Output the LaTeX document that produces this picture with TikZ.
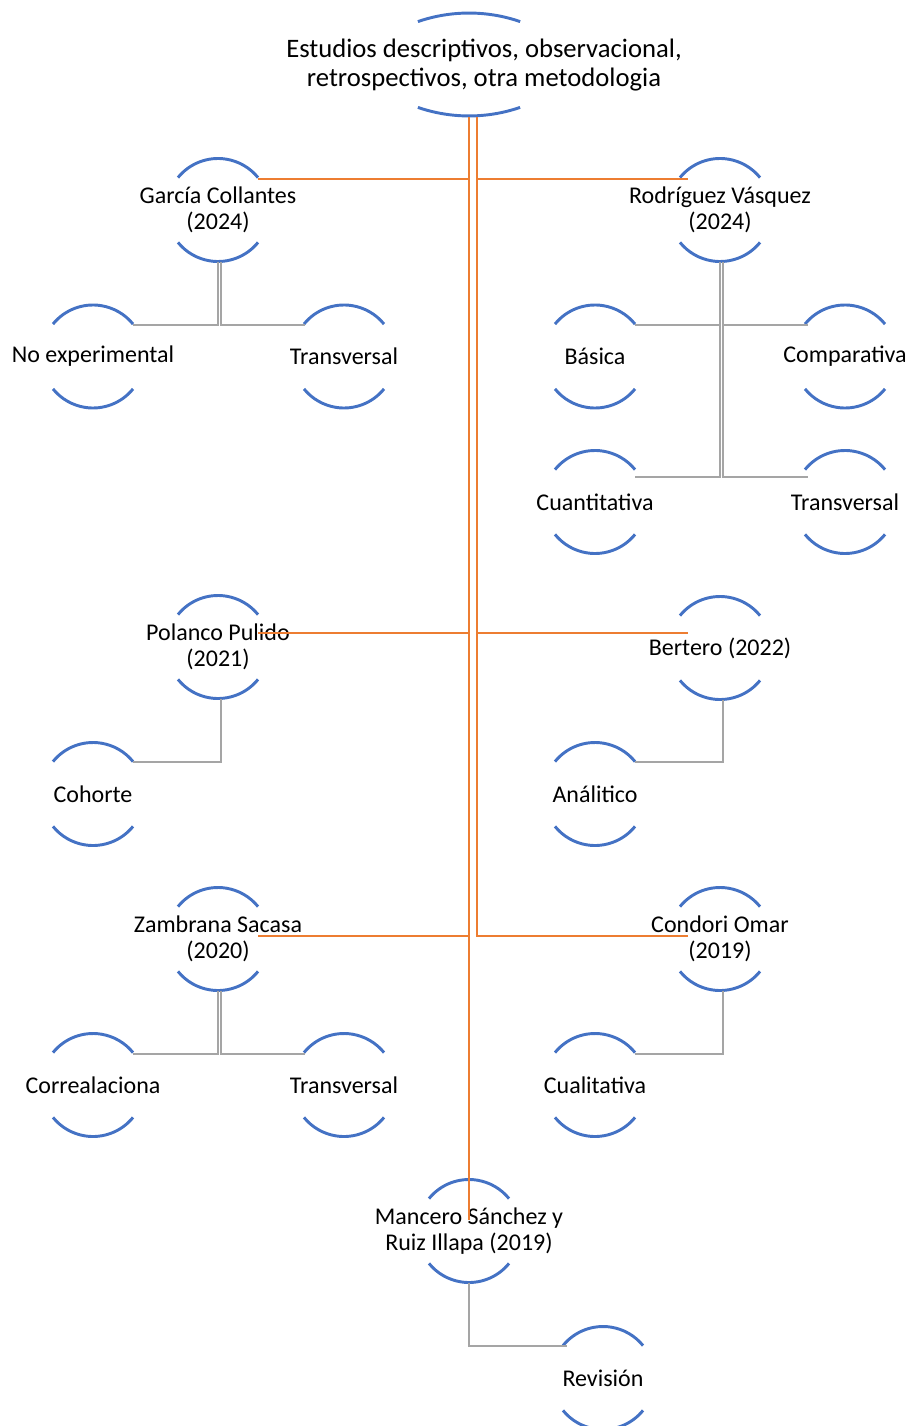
\documentclass[tikz,border=0pt]{standalone}
\usepackage{fontspec}
\setmainfont{Carlito}
\usetikzlibrary{calc}
\definecolor{arcblue}{HTML}{4472C4}
\definecolor{conorange}{HTML}{ED7D31}
\definecolor{congray}{HTML}{A5A5A5}
\begin{document}
\begin{tikzpicture}[x=0.75pt,y=-0.75pt,
  arcline/.style={draw=arcblue,line width=2.2pt},
  oline/.style={draw=conorange,line width=2.2pt},
  gline/.style={draw=congray,line width=2.2pt},
  lbl/.style={rectangle,inner sep=0pt,minimum height=77.25pt,align=center,
              font=\fontsize{18}{19.5}\selectfont,text=black},
  rootlbl/.style={rectangle,inner sep=0pt,minimum height=77.25pt,align=center,
              font=\fontsize{20}{21.75}\selectfont,text=black}]
\useasboundingbox (0,0) rectangle (912,1426);

% nodes
\node[rootlbl] (root) at (484,65.5) {Estudios descriptivos, observacional,\\retrospectivos, otra metodologia};
\coordinate (rootbot) at ($(root.south)+(-15,0)$);
\node[lbl] (g1) at (218,210) {García Collantes\\(2024)};
\node[lbl] (r1) at (720,210) {Rodríguez Vásquez\\(2024)};
\node[lbl] (ne) at (93,356.5) {No experimental};
\node[lbl] (tl) at (344,356.5) {Transversal};
\node[lbl] (ba) at (595,356.5) {Básica};
\node[lbl] (co) at (845,356.5) {Comparativa};
\node[lbl] (cu) at (595,502) {Cuantitativa};
\node[lbl] (tr) at (845,502) {Transversal};
\node[lbl] (p1) at (218,647) {Polanco Pulido\\(2021)};
\node[lbl] (b1) at (720,648) {Bertero (2022)};
\node[lbl] (ch) at (93,794) {Cohorte};
\node[lbl] (an) at (595,794) {Análitico};
\node[lbl] (z1) at (218,939) {Zambrana Sacasa\\(2020)};
\node[lbl] (c1) at (720,939) {Condori Omar\\(2019)};
\node[lbl] (cr) at (93,1085) {Correalaciona};
\node[lbl] (tz) at (344,1085) {Transversal};
\node[lbl] (cq) at (595,1085) {Cualitativa};
\node[lbl] (m1) at (469,1231) {Mancero Sánchez y\\Ruiz Illapa (2019)};
\node[lbl] (rv) at (603,1378) {Revisión};

% half-circle arcs
\draw[arcline] ($(root)+(-66.1,-43.9)$) arc[start angle=-109,end angle=-71,radius=157];
\draw[arcline] ($(root)+(36.1,41.9)$) arc[start angle=71,end angle=109,radius=157];
\foreach \n in {g1,r1,ne,tl,ba,co,cu,tr,p1,b1,ch,an,z1,c1,cr,tz,cq,m1,rv}{
  \draw[arcline] ($(\n)+(39:51.5)$) arc[start angle=39,end angle=141,radius=51.5];
  \draw[arcline] ($(\n)+(219:51.5)$) arc[start angle=219,end angle=321,radius=51.5];
}

% orange connectors (root to level 1)
\draw[oline] (rootbot) |- ($(g1)+(40,-31)$);
\draw[oline] ($(rootbot)+(8,0)$) |- ($(r1)+(-32,-31)$);
\draw[oline] (rootbot) |- ($(p1)+(40,-14)$);
\draw[oline] ($(rootbot)+(8,0)$) |- ($(b1)+(-32,-15)$);
\draw[oline] (rootbot) |- ($(z1)+(40,-3)$);
\draw[oline] ($(rootbot)+(8,0)$) |- ($(c1)+(-32,-3)$);
\draw[oline] (rootbot) -- ($(m1)+(0,-11)$);

% gray connectors (level 1 to level 2)
\draw[gline] (g1.south) |- ($(ne)+(40,-31.5)$);
\draw[gline] ($(g1.south)+(3,0)$) |- ($(tl)+(-39,-31.5)$);
\draw[gline] (r1.south) |- ($(ba)+(40,-31.5)$);
\draw[gline] ($(r1.south)+(3,0)$) |- ($(co)+(-37,-31.5)$);
\draw[gline] (r1.south) |- ($(cu)+(40,-25)$);
\draw[gline] ($(r1.south)+(3,0)$) |- ($(tr)+(-37,-25)$);
\draw[gline] ($(p1.south)+(3,0)$) |- ($(ch)+(40,-32)$);
\draw[gline] ($(b1.south)+(3,0)$) |- ($(an)+(40,-32)$);
\draw[gline] (z1.south) |- ($(cr)+(40,-31)$);
\draw[gline] ($(z1.south)+(3,0)$) |- ($(tz)+(-39,-31)$);
\draw[gline] ($(c1.south)+(3,0)$) |- ($(cq)+(40,-31)$);
\draw[gline] (m1.south) |- ($(rv)+(-36,-32)$);
\end{tikzpicture}
\end{document}
